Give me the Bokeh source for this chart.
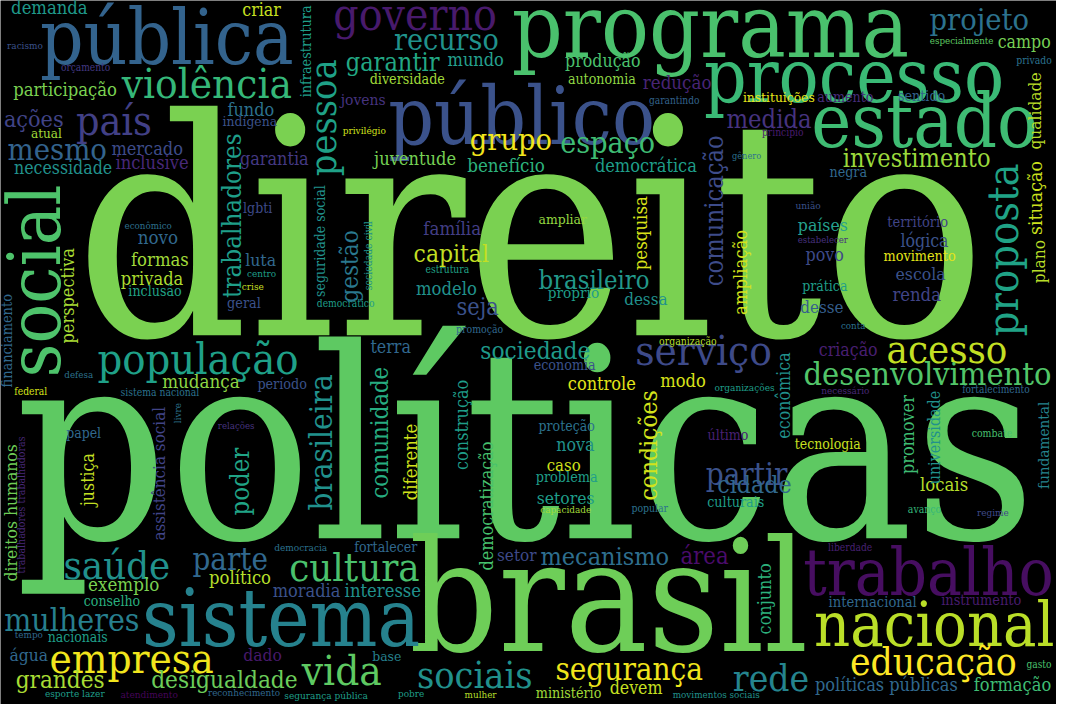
import math
from bokeh.plotting import figure
from bokeh.models import ColumnDataSource, Range1d
from bokeh.core.properties import value
from bokeh.embed import file_html
from bokeh.resources import INLINE

# horizontal words: x = centre of word, y = baseline (picture pixels), size = font em
words = [
    "direito", "políticas", "brasil", "programa", "processo", "sistema", "pública", "público", "estado", "trabalho",
    "nacional", "governo", "violência", "país", "mesmo", "ações", "participação", "demanda", "criar", "racismo",
    "orçamento", "fundo", "indígena", "atual", "mercado", "inclusive", "garantia", "necessidade", "lgbti", "econômico",
    "recurso", "garantir", "mundo", "produção", "diversidade", "autonomia", "redução", "jovens", "garantindo", "privilégio",
    "grupo", "espaço", "juventude", "benefício", "democrática", "família", "ampliar", "projeto", "especialmente", "campo",
    "privado", "instituições", "aumento", "sentido", "medida", "princípio", "investimento", "gênero", "negra", "união",
    "países", "território", "lógica", "estabelecer", "movimento", "povo", "escola", "prática", "renda", "desse",
    "conta", "acesso", "criação", "serviço", "desenvolvimento", "organizações", "necessário", "fortalecimento", "organização", "modo",
    "último", "combate", "tecnologia", "partir", "novo", "formas", "privada", "inclusão", "luta", "centro",
    "crise", "geral", "democrático", "população", "mudança", "período", "defesa", "federal", "sistema nacional", "relações",
    "papel", "democracia", "saúde", "parte", "cultura", "político", "exemplo", "moradia", "interesse", "conselho",
    "mulheres", "tempo", "nacionais", "água", "empresa", "dado", "grandes", "desigualdade", "vida", "esporte lazer",
    "atendimento", "reconhecimento", "segurança pública", "capital", "estrutura", "modelo", "seja", "promoção", "brasileiro", "próprio",
    "dessa", "terra", "sociedade", "economia", "controle", "proteção", "nova", "caso", "problema", "setores",
    "capacidade", "popular", "fortalecer", "setor", "mecanismo", "área", "base", "sociais", "segurança", "devem",
    "ministério", "pobre", "mulher", "movimentos sociais", "cidade", "culturais", "locais", "avanço", "regime", "liberdade",
    "internacional", "instrumento", "educação", "gasto", "rede", "políticas públicas", "formação",
]
word_x = [
    542, 537, 622, 726, 873, 287, 170, 533, 945, 949,
    955, 424, 211, 116, 58, 34, 66, 50, 267, 25,
    87, 256, 255, 47, 150, 155, 280, 64, 263, 151,
    456, 401, 486, 616, 416, 615, 692, 371, 689, 372,
    522, 621, 424, 517, 660, 462, 575, 1001, 983, 1047,
    1057, 796, 864, 942, 786, 800, 937, 763, 867, 826,
    841, 938, 945, 841, 940, 843, 941, 843, 937, 840,
    872, 968, 867, 719, 948, 761, 864, 1018, 703, 698,
    744, 1014, 846, 763, 161, 163, 155, 158, 266, 267,
    258, 249, 353, 202, 205, 288, 80, 31, 163, 241,
    85, 307, 119, 235, 362, 245, 126, 313, 391, 114,
    73, 29, 79, 29, 134, 268, 61, 229, 349, 76,
    152, 249, 333, 461, 457, 456, 488, 490, 607, 586,
    660, 399, 547, 577, 615, 579, 588, 576, 579, 578,
    578, 664, 394, 528, 618, 720, 395, 485, 643, 650,
    581, 420, 491, 732, 771, 752, 965, 945, 1015, 869,
    892, 1003, 954, 1062, 788, 906, 1035,
]
word_y = [
    342, 550, 665, 58, 103, 660, 65, 147, 150, 608,
    660, 30, 100, 138, 163, 129, 97, 14, 16, 50,
    72, 118, 128, 141, 158, 172, 168, 178, 217, 234,
    51, 72, 67, 68, 85, 85, 90, 107, 106, 137,
    153, 156, 168, 175, 175, 240, 228, 30, 44, 49,
    64, 104, 104, 103, 131, 139, 170, 162, 180, 213,
    236, 232, 252, 248, 266, 267, 286, 297, 307, 319,
    336, 370, 364, 373, 393, 399, 402, 401, 352, 395,
    449, 446, 459, 495, 249, 271, 291, 302, 272, 283,
    296, 314, 314, 382, 396, 397, 386, 404, 404, 438,
    447, 563, 591, 582, 593, 597, 604, 610, 610, 619,
    644, 652, 656, 675, 688, 675, 703, 704, 700, 712,
    713, 711, 714, 267, 279, 301, 321, 340, 295, 305,
    311, 361, 367, 378, 398, 440, 461, 481, 492, 515,
    524, 523, 564, 573, 577, 577, 675, 703, 695, 709,
    713, 712, 713, 713, 504, 518, 502, 524, 527, 563,
    620, 618, 690, 683, 706, 706, 706,
]
word_size = [
    281, 247, 144, 82.5, 69, 74, 70.5, 74, 70, 60.5,
    58, 41, 39, 38, 28.5, 21.6, 17, 17, 16.4, 9.2,
    9.4, 16.6, 12.8, 12.5, 16.7, 16.9, 16.6, 16.4, 13, 9,
    28, 23.3, 16.7, 16.4, 13.2, 13.1, 17.3, 14.4, 9.4, 9.3,
    28.3, 28, 16.8, 17.3, 16.7, 17.2, 12.8, 28.4, 9, 16.4,
    9.6, 12.7, 13.1, 13.2, 23.5, 9.5, 23.3, 8.5, 13.2, 9.3,
    16.3, 13.5, 16.4, 8.8, 13.3, 16.5, 16.3, 13, 17, 15.7,
    9, 37, 16.4, 39, 30, 9.3, 9.2, 9.4, 9.7, 16.8,
    13, 9.7, 12.9, 29, 17.3, 17, 16.8, 13.1, 16.3, 9.2,
    9.3, 13.3, 9.5, 40, 17.3, 13.2, 9, 9.5, 9.6, 8.9,
    12.9, 9.3, 37, 28.8, 37, 17, 17.3, 16.7, 17, 13,
    29.6, 9.1, 12.9, 16.1, 39, 16.1, 22.4, 22.5, 39, 9.3,
    9.3, 9.1, 9.3, 22.7, 9.5, 17, 21.7, 9.7, 23.6, 14.1,
    15.7, 16.5, 22.5, 13.2, 16.7, 13, 16.5, 15.4, 13.3, 16.2,
    9.2, 9.7, 13, 15.8, 23.2, 22, 12.8, 34.9, 29, 16.4,
    13.2, 9.2, 9.1, 9.1, 23, 13.2, 17.1, 9.7, 9.2, 9.5,
    13.6, 13.4, 36, 9.4, 34.3, 16.7, 16.8,
]
word_color = [
    "#7ad151", "#5ec962", "#6ece58", "#4ac16d", "#3aba76", "#26828e", "#33638d", "#3b528b", "#3fbc73", "#470e61",
    "#bade28", "#481a6c", "#35b779", "#424086", "#33638d", "#414487", "#7ad151", "#1f998a", "#c8e020", "#3b528b",
    "#443983", "#2c728e", "#3b528b", "#a0da39", "#3e4c8a", "#482878", "#443983", "#21918c", "#3e4a89", "#2d708e",
    "#20928c", "#22a884", "#25a18e", "#4ac16d", "#a0da39", "#8fd744", "#482475", "#46337f", "#33638d", "#d2e21b",
    "#f1e51d", "#3fbc73", "#75d054", "#2db27d", "#1f9e89", "#433e85", "#95d840", "#2c728e", "#5ec962", "#75d054",
    "#2c728e", "#e5e419", "#472d7b", "#33638d", "#46337f", "#481c6e", "#9bd93c", "#2c728e", "#31688e", "#3b528b",
    "#25a18e", "#414487", "#3b528b", "#46307e", "#e5e419", "#3e4a89", "#3b528b", "#1f9e89", "#414487", "#355f8d",
    "#2c728e", "#c2df23", "#481f70", "#3e4a89", "#52c569", "#1f9e89", "#482878", "#31688e", "#b5de2b", "#d8e219",
    "#482173", "#47c16e", "#c8e020", "#3b528b", "#31688e", "#a0da39", "#addc30", "#20a386", "#31688e", "#1f9e89",
    "#c2df23", "#3b528b", "#1f9e89", "#1fa088", "#8ed645", "#3b528b", "#2c728e", "#d8e219", "#2c728e", "#46337f",
    "#31688e", "#2c728e", "#21918c", "#31688e", "#4ac16d", "#b5de2b", "#7ad151", "#3b528b", "#21918c", "#29af7f",
    "#277f8e", "#31688e", "#1f9e89", "#31688e", "#f1e51d", "#481a6c", "#a8db34", "#6ccd5a", "#5ec962", "#1f9e89",
    "#450559", "#31688e", "#1f9e89", "#c2df23", "#20a386", "#21918c", "#3b528b", "#31688e", "#22988a", "#1f9e89",
    "#21918c", "#31688e", "#1f9a8a", "#3b528b", "#e2e418", "#2c728e", "#21918c", "#d2e21b", "#1f9e89", "#1f9e89",
    "#a0da39", "#2c728e", "#31688e", "#3e4a89", "#2e6e8e", "#4a0c6b", "#26828e", "#21918c", "#f0e51c", "#c8e020",
    "#a0da39", "#1f9e89", "#b5de2b", "#21918c", "#31688e", "#1f9e89", "#b5de2b", "#35b779", "#3e4a89", "#482173",
    "#31688e", "#481c6e", "#fde725", "#4ac16d", "#25848e", "#31688e", "#3fbc73",
]

# words set upright (read bottom to top): x = baseline, y = middle of the word
up_words = [
    "social", "pessoa", "infraestrutura", "trabalhadores", "seguridade social", "pesquisa", "comunicação", "ampliação",
    "qualidade", "proposta", "situação", "plano", "gestão", "sociedade civil", "perspectiva", "financiamento",
    "brasileira", "comunidade", "livre", "assistência social", "justiça", "poder", "direitos humanos",
    "trabalhadores trabalhadoras", "construção", "democratização", "diferente", "condições", "econômica", "promover",
    "universidade", "fundamental", "conjunto",
]
up_x = [
    61, 343, 317, 246, 332, 661, 739, 763,
    1064, 1040, 1065, 1068, 366, 380, 75, 12,
    339, 397, 184, 168, 96, 254, 17,
    25, 478, 503, 426, 671, 808, 934,
    961, 1073, 788,
]
up_y = [
    287, 120, 52, 220, 246, 238, 215, 278,
    113, 255, 202, 267, 272, 261, 302, 348,
    452, 442, 422, 484, 490, 492, 524,
    516, 434, 517, 472, 455, 404, 444,
    447, 455, 612,
]
up_size = [
    68.5, 35, 13.3, 24, 13, 17.2, 23.5, 17,
    16, 40, 18, 16, 22.4, 9.6, 16.7, 13.4,
    29, 22, 9.1, 15.7, 16.4, 23.7, 16.2,
    9.8, 16.6, 16.6, 17.1, 22.7, 16.5, 16.6,
    14.8, 14.1, 16.6,
]
up_color = [
    "#4ec36b", "#1fa187", "#1f9e89", "#1f9e89", "#21918c", "#d8e219", "#3e4c8a", "#d5e21a",
    "#bade28", "#20a386", "#cde11d", "#b8de29", "#2a788e", "#21918c", "#a8db34", "#31688e",
    "#21918c", "#27ad81", "#2c728e", "#414487", "#c2df23", "#20a486", "#6ece58",
    "#482878", "#1f9e89", "#47c16e", "#d2e21b", "#d2e21b", "#21918c", "#3fbc73",
    "#21918c", "#25838e", "#2db27d",
]

PX = 704 / 720          # page is drawn at 1056x704 instead of 1080x720
FIT = 1.1               # condensed face: em from widths measured on the regular face
DROP = 0.346            # the anchor lands this many em above the baseline
FONT = "'DejaVu Serif Condensed', 'DejaVu Serif', serif"


def make_source(texts, xs, ys, sizes, colors, upright):
    ems = [s * FIT for s in sizes]
    if upright:
        xs = [x - DROP * e for x, e in zip(xs, ems)]
    else:
        ys = [y - DROP * e for y, e in zip(ys, ems)]
    return ColumnDataSource(dict(
        text=texts, x=xs, y=ys, color=colors,
        size=["%.1fpx" % (e * PX) for e in ems],
        angle=[math.pi / 2 if upright else 0] * len(texts),
    ))


p = figure(
    width=1056,
    height=704,
    x_range=Range1d(0, 1080),
    y_range=Range1d(720, 0),
    x_axis_type=None,
    y_axis_type=None,
    toolbar_location=None,
    tools="",
    min_border=0,
    output_backend="svg",
)
p.grid.visible = False
p.background_fill_color = "black"
p.border_fill_color = "black"
p.outline_line_color = None

for src in (
    make_source(words, word_x, word_y, word_size, word_color, False),
    make_source(up_words, up_x, up_y, up_size, up_color, True),
):
    p.text(
        x="x", y="y", text="text", angle="angle", source=src,
        text_color="color", text_font_size="size", text_font=value(FONT),
        text_align="center", text_baseline="alphabetic",
    )

open("out.html", "w").write(file_html(p, INLINE))
